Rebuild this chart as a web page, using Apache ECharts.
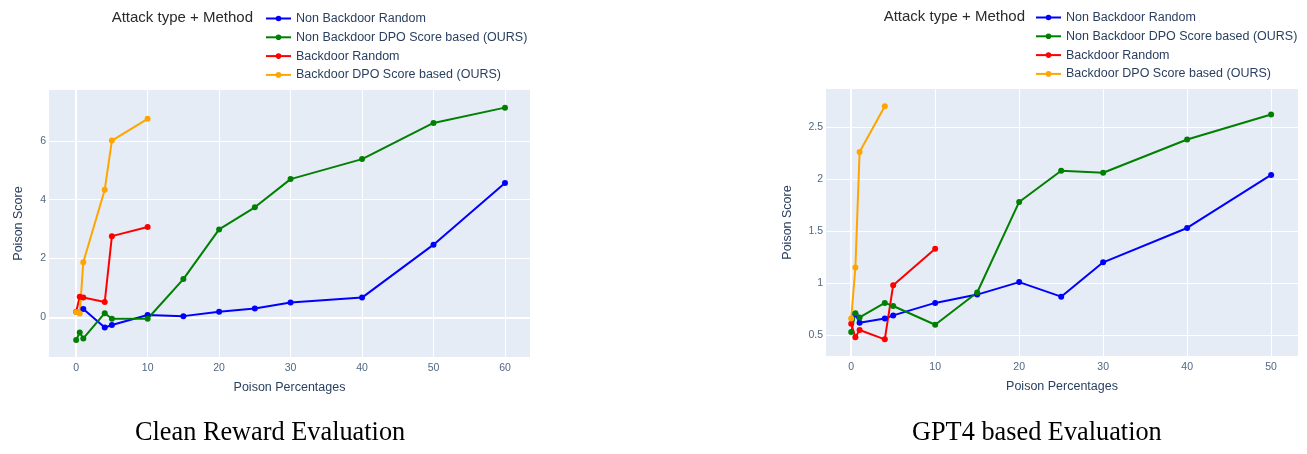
<!DOCTYPE html>
<html>
<head>
<meta charset="utf-8">
<script src="https://cdn.jsdelivr.net/npm/echarts@6/dist/echarts.min.js"></script>
<style>
html,body{margin:0;padding:0;background:#fff;}
#c{width:1307px;height:454px;}
</style>
</head>
<body>
<div id="c"></div>
<script>
// ---- Data ----
const seriesNames = ["Non Backdoor Random", "Non Backdoor DPO Score based (OURS)", "Backdoor Random", "Backdoor DPO Score based (OURS)"];
const seriesColors = ["#0000ff", "#008000", "#ff0000", "#ffa500"];

// Left: Clean Reward Evaluation
const leftNBRandomX = [1, 4, 5, 10, 15, 20, 25, 30, 40, 50, 60];
const leftNBRandomY = [0.28, -0.35, -0.26, 0.08, 0.04, 0.19, 0.30, 0.50, 0.67, 2.47, 4.57];
const leftNBDpoX = [0, 0.5, 1, 4, 5, 10, 15, 20, 25, 30, 40, 50, 60];
const leftNBDpoY = [-0.77, -0.52, -0.72, 0.14, -0.05, -0.05, 1.30, 2.99, 3.74, 4.70, 5.38, 6.61, 7.13];
const leftBRandomX = [0, 0.5, 1, 4, 5, 10];
const leftBRandomY = [0.19, 0.70, 0.67, 0.52, 2.76, 3.07];
const leftBDpoX = [0, 0.5, 1, 4, 5, 10];
const leftBDpoY = [0.18, 0.13, 1.87, 4.34, 6.01, 6.75];

// Right: GPT4 based Evaluation
const rightNBRandomX = [0.5, 1, 4, 5, 10, 15, 20, 25, 30, 40, 50];
const rightNBRandomY = [0.70, 0.62, 0.66, 0.69, 0.81, 0.89, 1.01, 0.87, 1.20, 1.53, 2.04];
const rightNBDpoX = [0, 0.5, 1, 4, 5, 10, 15, 20, 25, 30, 40, 50];
const rightNBDpoY = [0.53, 0.71, 0.67, 0.81, 0.78, 0.60, 0.91, 1.78, 2.08, 2.06, 2.38, 2.62];
const rightBRandomX = [0, 0.5, 1, 4, 5, 10];
const rightBRandomY = [0.61, 0.48, 0.55, 0.46, 0.98, 1.33];
const rightBDpoX = [0, 0.5, 1, 4];
const rightBDpoY = [0.66, 1.15, 2.26, 2.70];

// Tick labels
const leftXTicks = [0, 10, 20, 30, 40, 50, 60];
const leftYTicks = [0, 2, 4, 6];
const rightXTicks = [0, 10, 20, 30, 40, 50];
const rightYTicks = [0.5, 1, 1.5, 2, 2.5];

const xTitle = "Poison Percentages";
const yTitle = "Poison Score";
const legendTitle = "Attack type + Method";
const captions = ["Clean Reward Evaluation", "GPT4 based Evaluation"];

// ---- Build ----
const FONT = "Liberation Sans, Arial, sans-serif";
const tickColor = "#506784";
const titleColor = "#2a3f5f";

function zip(xs, ys) { return xs.map((x, i) => [x, ys[i]]); }

function lineSeries(idx, name, xs, ys) {
  const col = seriesColors[seriesNames.indexOf(name)];
  return {
    type: "line", name: name, xAxisIndex: idx, yAxisIndex: idx,
    data: zip(xs, ys), z: 3,
    symbol: "circle", symbolSize: 6, showSymbol: true,
    lineStyle: { color: col, width: 2 },
    itemStyle: { color: col },
    animation: false
  };
}

function xAxis(idx, min, max, ticks) {
  return {
    type: "value", gridIndex: idx, min: min, max: max,
    name: xTitle, nameLocation: "middle", nameGap: 24,
    nameTextStyle: { fontFamily: FONT, fontSize: 12.5, color: titleColor },
    axisLine: { show: false },
    axisTick: { show: false, customValues: ticks },
    axisLabel: { customValues: ticks, fontFamily: FONT, fontSize: 10.5, color: tickColor, margin: 6 },
    splitLine: { show: true, lineStyle: { color: "#ffffff", width: 1 } }
  };
}
function yAxis(idx, min, max, ticks, gap) {
  return {
    type: "value", gridIndex: idx, min: min, max: max,
    name: yTitle, nameLocation: "middle", nameGap: gap, nameRotate: 90,
    nameTextStyle: { fontFamily: FONT, fontSize: 12.5, color: titleColor },
    axisLine: { show: false },
    axisTick: { show: false, customValues: ticks },
    axisLabel: { customValues: ticks, fontFamily: FONT, fontSize: 10.5, color: tickColor, margin: 3 },
    splitLine: { show: true, lineStyle: { color: "#ffffff", width: 1 } }
  };
}

function zeroSeries(idx, withY) {
  const d = [{ xAxis: 0 }];
  if (withY) d.push({ yAxis: 0 });
  return {
    type: "line", name: "zero" + idx, xAxisIndex: idx, yAxisIndex: idx, data: [], z: 1,
    markLine: { silent: true, z: 1, symbol: "none", label: { show: false }, animation: false,
      lineStyle: { color: "#ffffff", width: 2, type: "solid" }, data: d }
  };
}

function legend(left, top) {
  return {
    orient: "vertical", left: left, top: top,
    data: seriesNames, itemWidth: 25, itemHeight: 7, itemGap: 5.8,
    textStyle: { fontFamily: FONT, fontSize: 12.5, color: titleColor },
    selectedMode: false
  };
}

const option = {
  backgroundColor: "#ffffff",
  animation: false,
  grid: [
    { left: 49, top: 90, width: 481, height: 267, backgroundColor: "#e5ecf6", show: true, borderWidth: 0 },
    { left: 826, top: 89, width: 472, height: 267, backgroundColor: "#e5ecf6", show: true, borderWidth: 0 }
  ],
  xAxis: [xAxis(0, -3.8, 63.5, leftXTicks), xAxis(1, -3.0, 53.2, rightXTicks)],
  yAxis: [yAxis(0, -1.35, 7.73, leftYTicks, 24), yAxis(1, 0.30, 2.865, rightYTicks, 32)],
  legend: [legend(260, 7), legend(1030, 6)],
  graphic: [
    { type: "text", right: 1307 - 253, top: 10, style: { text: legendTitle, font: "15px " + FONT, fill: "#2a2a2a" } },
    { type: "text", right: 1307 - 1025, top: 9, style: { text: legendTitle, font: "15px " + FONT, fill: "#2a2a2a" } },
    { type: "text", left: 135, top: 420, style: { text: captions[0], font: "26.3px Liberation Serif, Times New Roman, serif", fill: "#000" } },
    { type: "text", left: 912, top: 420, style: { text: captions[1], font: "26.3px Liberation Serif, Times New Roman, serif", fill: "#000" } }
  ],
  series: [
    zeroSeries(0, true),
    zeroSeries(1, false),
    lineSeries(0, seriesNames[0], leftNBRandomX, leftNBRandomY),
    lineSeries(0, seriesNames[1], leftNBDpoX, leftNBDpoY),
    lineSeries(0, seriesNames[2], leftBRandomX, leftBRandomY),
    lineSeries(0, seriesNames[3], leftBDpoX, leftBDpoY),
    lineSeries(1, seriesNames[0], rightNBRandomX, rightNBRandomY),
    lineSeries(1, seriesNames[1], rightNBDpoX, rightNBDpoY),
    lineSeries(1, seriesNames[2], rightBRandomX, rightBRandomY),
    lineSeries(1, seriesNames[3], rightBDpoX, rightBDpoY)
  ]
};

const chart = echarts.init(document.getElementById("c"), null, { renderer: "canvas" });
chart.setOption(option);
</script>
</body>
</html>
